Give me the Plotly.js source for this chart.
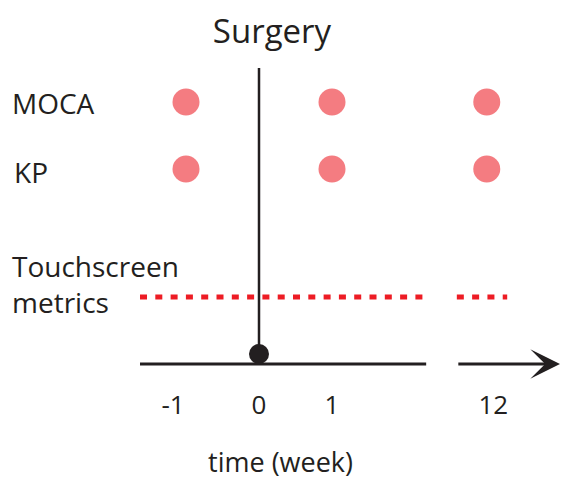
<!DOCTYPE html>
<html><head><meta charset="utf-8">
<script src="https://cdn.plot.ly/plotly-3.0.1.min.js"></script>
<style>html,body{margin:0;padding:0;background:#fff}</style>
</head><body><div id="chart" style="width:561px;height:480px"></div>
<script>
// ---------------- data ----------------
const timeWeeks = [-1, 0, 1, 12];
const timeLabels = ["-1\u2003", "0", "1", "\u200212"];
const surgeryWeek = 0;
const surgeryLabel = "Surgery";
const assessmentNames = ["MOCA", "KP"];
const assessmentWeeks = [-1, 1, 12];
const touchscreenName = "Touchscreen<br>metrics";
const touchscreenSegments = [[-1.63, 2.29], [11.59, 12.28]];
const axisSegment = [-1.63, 2.29];
const axisResumeWeek = 11.59;
const axisTitle = "time (week)";

// ---------------- layout constants ----------------
const W = 561, H = 480;
const PX = 73;                       // px per unit on x
const X0 = 259;                      // pixel of week 0
const xRange = [-X0 / PX, (W - X0) / PX];
const yRange = [-16 / 67, 364 / 67];
const BREAK_WEEK = 5, BREAK_OFFSET = 12 - 3.12;
function pos(w) { return w > BREAK_WEEK ? w - BREAK_OFFSET : w; }
const rowY = { MOCA: 3.91, KP: 2.91, touch: 1.0 };
const labelShift = { MOCA: -1, KP: -3, touch: 13 };
const INK = '#231f20', DOT = '#f47c81', RED = '#ed1c24';
const FONT = '"Open Sans", "Noto Sans", sans-serif';

const traces = [];
assessmentNames.forEach(n => {
  traces.push({
    x: assessmentWeeks.map(pos), y: assessmentWeeks.map(() => rowY[n]),
    mode: 'markers', type: 'scatter', cliponaxis: false, hoverinfo: 'skip',
    marker: { size: 27, color: DOT }
  });
});
touchscreenSegments.forEach(s => {
  traces.push({
    x: s.map(pos), y: [rowY.touch, rowY.touch], mode: 'lines', type: 'scatter',
    cliponaxis: false, hoverinfo: 'skip',
    line: { color: RED, width: 5, dash: '7px,8.3px' }
  });
});
// axis line (first part)
traces.push({
  x: axisSegment.map(pos), y: [0, 0], mode: 'lines', type: 'scatter', cliponaxis: false,
  hoverinfo: 'skip', line: { color: INK, width: 3 }
});
// surgery line + dot
traces.push({
  x: [pos(surgeryWeek), pos(surgeryWeek)], y: [0.149, 4.418], mode: 'lines', type: 'scatter',
  cliponaxis: false, hoverinfo: 'skip', line: { color: INK, width: 2.5 }
});
traces.push({
  x: [pos(surgeryWeek)], y: [0.149], mode: 'markers', type: 'scatter', cliponaxis: false,
  hoverinfo: 'skip', marker: { size: 20, color: INK }
});

const annotations = [
  { text: 'MOCA', key: 'MOCA' }, { text: 'KP', key: 'KP' }, { text: touchscreenName, key: 'touch' }
].map(a => ({
  text: a.text, xref: 'paper', x: 10 / W, xanchor: 'left', yref: 'y', y: rowY[a.key],
  yanchor: 'middle', yshift: labelShift[a.key], align: 'left', showarrow: false,
  font: { family: FONT, size: 28, color: INK }
}));
annotations[1].xshift = 2;
// arrow (second part of axis)
annotations.push({
  text: '', xref: 'x', yref: 'y', axref: 'x', ayref: 'y',
  x: xRange[1] - 1 / PX, y: 0, ax: pos(axisResumeWeek), ay: 0,
  showarrow: true, arrowhead: 3, arrowwidth: 3, arrowsize: 1.65, arrowcolor: INK
});

const layout = {
  width: W, height: H, margin: { l: 0, r: 0, t: 0, b: 100 },
  paper_bgcolor: '#fff', plot_bgcolor: '#fff', showlegend: false,
  title: { text: surgeryLabel, font: { family: FONT, size: 33, color: INK },
           x: 272 / W, xanchor: 'center', xref: 'paper', y: 1 - 31 / H, yanchor: 'middle', yref: 'container' },
  xaxis: {
    range: xRange, showgrid: false, zeroline: false, showline: false, ticks: '',
    tickvals: timeWeeks.map(pos), ticktext: timeLabels, ticklabelstandoff: 7,
    tickfont: { family: FONT, size: 26, color: INK },
    title: { text: axisTitle, font: { family: FONT, size: 27, color: INK }, standoff: 32 }
  },
  yaxis: { range: yRange, visible: false, showgrid: false, zeroline: false },
  annotations: annotations
};
Plotly.newPlot('chart', traces, layout, { displayModeBar: false, staticPlot: true });
</script></body></html>
